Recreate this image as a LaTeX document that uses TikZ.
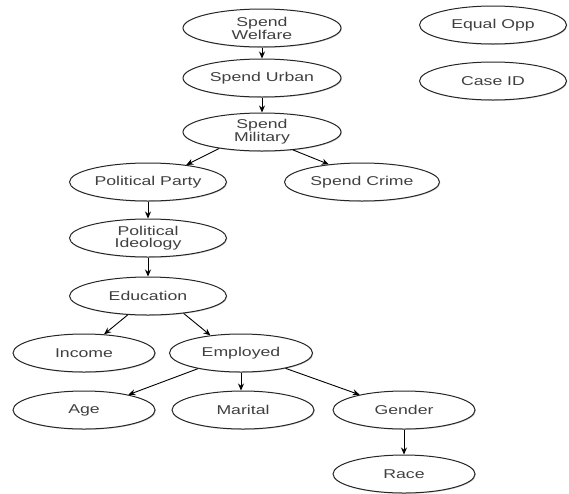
\documentclass[tikz,border=0pt]{standalone}
\usepackage{fontspec}
\setmainfont{Liberation Sans}[FakeStretch=1.38]
\usetikzlibrary{shapes.geometric,arrows.meta,shadows}
\begin{document}
\begin{tikzpicture}[x=1pt,y=-1pt,
  var/.style={ellipse,draw=black!85,line width=1pt,fill=white,inner sep=0pt,
    minimum width=#1,minimum height=38pt,text=black!75,align=center,
    font=\fontsize{12.8}{11.5}\selectfont,
    drop shadow={shadow xshift=0.8pt,shadow yshift=-0.8pt,opacity=0.35,fill=black!60}},
  var/.default=150pt,
  link/.style={draw=black,line width=0.9pt,-{Stealth[length=7pt,width=6pt]}}]
\useasboundingbox (0,0) rectangle (569,493);
\node[var=158pt] (wel) at (262,28) {Spend\\Welfare};
\node[var=158pt] (urb) at (262,78) {Spend Urban};
\node[var=158pt] (mil) at (262,132) {Spend\\Military};
\node[var=147pt] (eq) at (493,25) {Equal Opp};
\node[var=147pt] (cid) at (493,81) {Case ID};
\node[var=157pt] (par) at (148,182) {Political Party};
\node[var=155pt] (cri) at (362,182) {Spend Crime};
\node[var=157pt] (ide) at (148,238) {Political\\Ideology};
\node[var=157pt] (edu) at (148,296) {Education};
\node[var=142pt] (inc) at (84,353) {Income};
\node[var=143pt] (emp) at (241,353) {Employed};
\node[var=142pt] (age) at (84,410) {Age};
\node[var=142pt] (mar) at (243,410) {Marital};
\node[var=142pt] (gen) at (404,410) {Gender};
\node[var=142pt] (rac) at (404,474) {Race};
\draw[link] (wel) -- (urb);
\draw[link] (urb) -- (mil);
\draw[link] (mil.201) -- (par.24);
\draw[link] (mil.330) -- (cri.152);
\draw[link] (par) -- (ide);
\draw[link] (ide) -- (edu);
\draw[link] (edu.223) -- (inc.43);
\draw[link] (edu.334) -- (emp.150);
\draw[link] (emp.200) -- (age.19);
\draw[link] (emp.south) -- (emp.south |- mar.north);
\draw[link] (emp.341) -- (gen.161);
\draw[link] (gen) -- (rac);
\end{tikzpicture}
\end{document}
